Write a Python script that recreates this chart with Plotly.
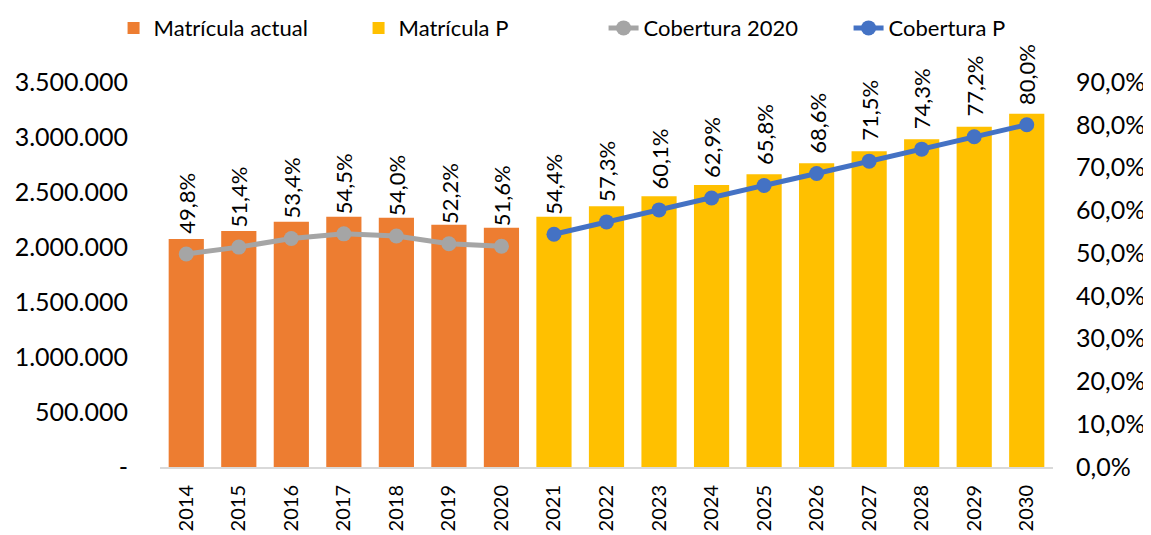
import plotly.graph_objects as go

years_actual = [2014, 2015, 2016, 2017, 2018, 2019, 2020]
years_proj = [2021, 2022, 2023, 2024, 2025, 2026, 2027, 2028, 2029, 2030]
matricula_actual = [2073000, 2145000, 2230000, 2276000, 2266000, 2203000, 2175000]
matricula_p = [2276000, 2370000, 2461000, 2564000, 2661000, 2761000, 2870000, 2979000, 3094000, 3212000]
cobertura_2020 = [0.498, 0.514, 0.534, 0.545, 0.540, 0.522, 0.516]
cobertura_p = [0.544, 0.573, 0.601, 0.629, 0.658, 0.686, 0.715, 0.743, 0.772, 0.800]
left_ticks = [0, 500000, 1000000, 1500000, 2000000, 2500000, 3000000, 3500000]
right_ticks = [0, 0.1, 0.2, 0.3, 0.4, 0.5, 0.6, 0.7, 0.8, 0.9]

FONT = "Lato"
ORANGE = "#ED7D31"
YELLOW = "#FFC000"
GRAY = "#A5A5A5"
BLUE = "#4472C4"

all_years = years_actual + years_proj

def fmt_int(v):
    return "-" if v == 0 else f"{v:,.0f}".replace(",", ".")

def fmt_pct(v):
    return f"{v*100:.1f}%".replace(".", ",")

fig = go.Figure()
fig.add_trace(go.Bar(x=years_actual, y=matricula_actual, name="Matrícula actual",
                     width=0.67, marker=dict(color=ORANGE, line=dict(width=0))))
fig.add_trace(go.Bar(x=years_proj, y=matricula_p, name="Matrícula P",
                     width=0.67, marker=dict(color=YELLOW, line=dict(width=0))))
fig.add_trace(go.Scatter(x=years_actual, y=cobertura_2020, name="Cobertura 2020", yaxis="y2",
                         mode="lines+markers", line=dict(color=GRAY, width=5),
                         marker=dict(size=15, color=GRAY)))
fig.add_trace(go.Scatter(x=years_proj, y=cobertura_p, name="Cobertura P", yaxis="y2",
                         mode="lines+markers", line=dict(color=BLUE, width=5),
                         marker=dict(size=15, color=BLUE)))

annotations = []
for xs, ys in ((years_actual, cobertura_2020), (years_proj, cobertura_p)):
    for x, y in zip(xs, ys):
        annotations.append(dict(x=x, y=y, xref="x", yref="y2", text=fmt_pct(y),
                                textangle=-90, showarrow=False, yanchor="bottom",
                                xanchor="center", yshift=18,
                                font=dict(family=FONT, size=22, color="#000000")))

# The page body adds an 8px offset, so the figure is 8px smaller than the window.
fig.update_layout(
    width=1143, height=527,
    margin=dict(l=152, r=98, t=74, b=68, autoexpand=False),
    paper_bgcolor="white", plot_bgcolor="white",
    barmode="overlay",
    font=dict(family=FONT, size=22, color="#000000"),
    annotations=annotations,
    legend=dict(orientation="h", x=-0.052, xanchor="left", y=1.14, yanchor="middle",
                font=dict(family=FONT, size=22, color="#000000"),
                entrywidth=200, entrywidthmode="pixels", bgcolor="rgba(0,0,0,0)"),
    xaxis=dict(type="linear", range=[min(all_years) - 0.5, max(all_years) + 0.5],
               tickvals=all_years, ticktext=[str(y) for y in all_years],
               tickangle=-90, showgrid=False, zeroline=False, showline=True,
               linecolor="#D9D9D9", linewidth=2, automargin=False,
               ticks="", tickfont=dict(family=FONT, size=20), ticklabelstandoff=8),
    yaxis=dict(range=[0, 3500000], tickvals=left_ticks, ticktext=[fmt_int(v) for v in left_ticks],
               showgrid=False, zeroline=False, showline=False, ticks="", automargin=False,
               tickfont=dict(family=FONT, size=25), ticklabelstandoff=31),
    yaxis2=dict(range=[0, 0.9], overlaying="y", side="right", tickvals=right_ticks,
                ticktext=[fmt_pct(v) for v in right_ticks], showgrid=False, zeroline=False,
                showline=False, ticks="", automargin=False, tickfont=dict(family=FONT, size=25),
                ticklabelstandoff=22),
)

fig.write_html("out.html")
